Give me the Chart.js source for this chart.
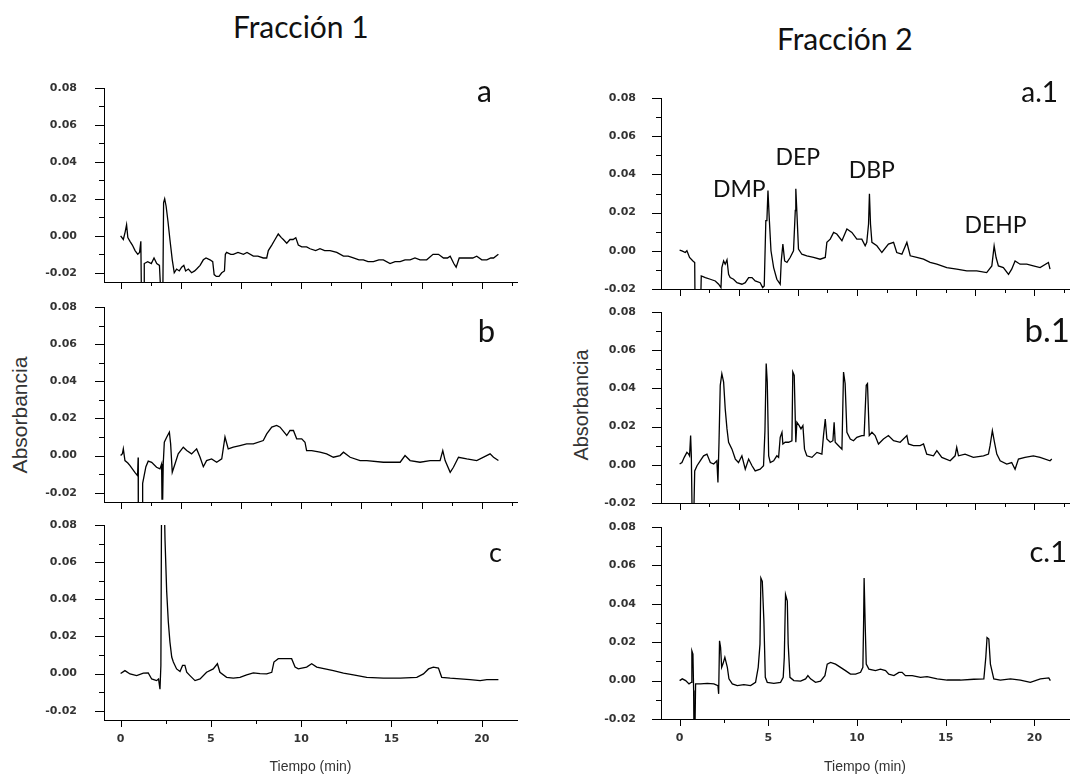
<!DOCTYPE html>
<html>
<head>
<meta charset="utf-8">
<script src="https://cdn.jsdelivr.net/npm/chart.js@4.4.1/dist/chart.umd.min.js"></script>
<style>
  body { margin: 0; background: #fff; width: 1073px; height: 776px; position: relative; overflow: hidden; }
  canvas { position: absolute; }
  .ttl { position: absolute; font-family: Lato, sans-serif; font-size: 30px; line-height: 1; color: #111; white-space: nowrap; }
  .ytl { position: absolute; font-family: 'Liberation Sans', Arial, sans-serif; color: #333; line-height: 1; white-space: nowrap;
         transform: translate(-50%, -50%) rotate(-90deg); }
</style>
</head>
<body>
<div class="ttl" style="left:233px; top:11px">Fracción 1</div>
<div class="ttl" style="left:777px; top:23px">Fracción 2</div>
<div class="ytl" style="left:19px; top:415px; font-size:21px">Absorbancia</div>
<div class="ytl" style="left:581px; top:405px; font-size:20px">Absorbancia</div>

<script>
// chromatograms: [time (min), absorbance]
const traceA = [[0,0],[0.15,-0.002],[0.25,0.002],[0.33,0.006],[0.40,-0.001],[0.52,-0.003],[0.65,-0.005],[0.80,-0.008],[0.95,-0.010],[1.05,-0.009],[1.12,-0.003],[1.15,-0.03],[1.30,-0.03],[1.31,-0.015],[1.50,-0.014],[1.70,-0.015],[1.85,-0.012],[2.00,-0.015],[2.15,-0.016],[2.22,-0.03],[2.34,-0.03],[2.38,0.018],[2.44,0.020],[2.52,0.016],[2.62,0.008],[2.73,-0.002],[2.86,-0.013],[2.97,-0.020],[3.10,-0.018],[3.25,-0.019],[3.38,-0.017],[3.50,-0.016],[3.60,-0.019],[3.75,-0.018],[3.93,-0.020],[4.10,-0.019],[4.21,-0.018],[4.40,-0.016],[4.58,-0.013],[4.73,-0.012],[4.95,-0.013],[5.10,-0.014],[5.18,-0.021],[5.30,-0.022],[5.45,-0.022],[5.60,-0.020],[5.75,-0.019],[5.80,-0.010],[5.87,-0.009],[6.10,-0.010],[6.24,-0.010],[6.50,-0.009],[6.80,-0.010],[7.00,-0.009],[7.35,-0.011],[7.60,-0.011],[7.90,-0.012],[8.09,-0.012],[8.18,-0.008],[8.37,-0.005],[8.55,-0.002],[8.73,0.001],[8.90,-0.001],[9.01,-0.002],[9.20,-0.004],[9.38,-0.002],[9.55,-0.002],[9.70,-0.001],[9.84,-0.005],[10.03,-0.006],[10.30,-0.006],[10.49,-0.007],[10.80,-0.008],[11.04,-0.007],[11.30,-0.008],[11.60,-0.008],[11.97,-0.009],[12.34,-0.011],[12.60,-0.011],[12.89,-0.012],[13.20,-0.013],[13.44,-0.013],[13.70,-0.014],[14.00,-0.014],[14.30,-0.013],[14.55,-0.013],[14.92,-0.015],[15.20,-0.014],[15.48,-0.014],[15.75,-0.013],[16.03,-0.013],[16.30,-0.012],[16.58,-0.013],[16.95,-0.013],[17.30,-0.010],[17.60,-0.010],[17.88,-0.012],[18.10,-0.012],[18.25,-0.011],[18.45,-0.015],[18.58,-0.017],[18.75,-0.012],[19.00,-0.012],[19.17,-0.012],[19.50,-0.012],[19.72,-0.011],[20.00,-0.013],[20.28,-0.013],[20.50,-0.012],[20.65,-0.012],[20.92,-0.010]];

const traceB = [[0,0],[0.10,0.001],[0.15,0.0036],[0.24,-0.0027],[0.40,-0.004],[0.52,-0.0054],[0.79,-0.009],[0.94,-0.0108],[0.97,-0.001],[0.98,-0.03],[1.20,-0.03],[1.22,-0.015],[1.40,-0.006],[1.53,-0.003],[1.72,-0.0036],[1.99,-0.0063],[2.18,-0.0072],[2.27,-0.0045],[2.29,-0.0234],[2.33,-0.0234],[2.36,-0.0045],[2.42,0.0072],[2.55,0.0099],[2.70,0.0126],[2.77,0.0063],[2.86,-0.009],[3.01,-0.0045],[3.19,0.0009],[3.47,0.0045],[3.66,0.0027],[3.93,0.0009],[4.21,0.0036],[4.40,-0.0009],[4.58,-0.006],[4.76,-0.0027],[5.04,-0.0018],[5.32,-0.0036],[5.60,-0.0018],[5.78,0.010],[5.96,0.0036],[6.24,0.0045],[6.61,0.0054],[6.98,0.0063],[7.35,0.0063],[7.90,0.0081],[8.09,0.0117],[8.37,0.0153],[8.64,0.0162],[8.83,0.0153],[9.20,0.0108],[9.38,0.0135],[9.57,0.0135],[9.75,0.009],[10.03,0.009],[10.21,0.0072],[10.30,0.0027],[10.58,0.0027],[11.04,0.0018],[11.41,0.0009],[11.78,-0.0009],[12.15,0],[12.34,0.0018],[12.71,-0.0009],[13.26,-0.0027],[13.63,-0.0027],[14.55,-0.0036],[15.48,-0.0036],[15.75,0],[16.03,-0.0027],[16.58,-0.0036],[17.14,-0.0027],[17.69,-0.0027],[17.84,0.0027],[17.97,-0.0027],[18.25,-0.009],[18.43,-0.0063],[18.71,-0.0009],[19.17,-0.0018],[19.72,-0.0027],[20.46,0.0009],[20.65,-0.0009],[20.92,-0.0027]];

const traceC = [[0,0],[0.24,0.0016],[0.52,-0.0002],[0.89,-0.0011],[1.26,0.0002],[1.53,0.0004],[1.72,-0.0029],[1.99,-0.0038],[2.10,-0.0029],[2.18,-0.0084],[2.23,0.0044],[2.27,0.10],[2.40,0.10],[2.46,0.0716],[2.55,0.0444],[2.64,0.028],[2.73,0.0171],[2.83,0.0089],[2.92,0.0062],[3.10,0.0025],[3.29,0.0011],[3.43,0.0044],[3.56,0.0044],[3.66,0.0007],[3.84,-0.0011],[4.12,-0.0038],[4.40,-0.0029],[4.76,0.0007],[5.13,0.0025],[5.36,0.0053],[5.50,0.0007],[5.87,-0.002],[6.24,-0.0025],[6.61,-0.002],[6.98,-0.0007],[7.35,0.0004],[7.72,0],[8.09,-0.0002],[8.37,0.0007],[8.49,0.0062],[8.73,0.008],[9.20,0.008],[9.47,0.008],[9.66,0.0035],[9.84,0.0025],[10.30,0.0035],[10.58,0.0053],[10.86,0.0035],[11.32,0.0025],[11.78,0.0016],[12.34,0.0002],[12.89,-0.0007],[13.63,-0.002],[14.55,-0.0024],[15.48,-0.0024],[16.40,-0.002],[16.77,-0.0002],[17.05,0.0025],[17.32,0.0035],[17.60,0.003],[17.78,-0.002],[18.25,-0.0025],[18.80,-0.0029],[19.35,-0.0033],[19.91,-0.0038],[20.28,-0.0033],[20.92,-0.0033]];

const traceA1 = [[0,0.0004],[0.13,0],[0.32,-0.0009],[0.41,0],[0.56,-0.0035],[0.75,-0.0053],[0.85,-0.0061],[0.87,-0.03],[1.18,-0.03],[1.22,-0.0132],[1.45,-0.014],[1.73,-0.0149],[2.01,-0.0158],[2.20,-0.0175],[2.33,-0.0193],[2.38,-0.0088],[2.48,-0.0053],[2.57,-0.007],[2.67,-0.0047],[2.76,-0.0123],[2.85,-0.014],[3.04,-0.0149],[3.23,-0.0167],[3.51,-0.0175],[3.70,-0.0167],[3.89,-0.014],[4.08,-0.014],[4.26,-0.0158],[4.54,-0.0167],[4.68,-0.0193],[4.77,-0.0184],[4.86,0.0158],[4.92,0.0158],[4.98,0.0316],[5.05,0.0175],[5.15,0],[5.30,-0.0088],[5.48,-0.0149],[5.67,-0.0175],[5.73,-0.0053],[5.82,0.0035],[5.92,-0.0053],[6.05,-0.0061],[6.23,-0.0035],[6.42,0],[6.52,0.0211],[6.55,0.0325],[6.61,0.0202],[6.70,0.0009],[6.89,-0.0018],[7.17,-0.0026],[7.55,-0.0035],[7.92,-0.0044],[8.21,-0.0035],[8.30,0.0044],[8.49,0.0061],[8.68,0.0096],[8.86,0.0088],[9.15,0.0053],[9.43,0.0114],[9.71,0.0096],[9.99,0.0061],[10.27,0.0061],[10.46,0.0026],[10.55,0.0044],[10.65,0.014],[10.70,0.0298],[10.76,0.014],[10.84,0.0044],[11.12,0.0026],[11.40,-0.0009],[11.77,0.0035],[12.06,0.0044],[12.24,-0.0009],[12.53,-0.0018],[12.81,0.0044],[13.00,-0.0026],[13.37,-0.0035],[13.75,-0.0044],[14.12,-0.0061],[14.50,-0.007],[15.06,-0.0088],[15.62,-0.0096],[16.19,-0.0105],[16.75,-0.0105],[17.31,-0.0114],[17.60,-0.0079],[17.73,0.0026],[17.84,-0.0035],[17.97,-0.0079],[18.25,-0.0088],[18.54,-0.0123],[18.72,-0.0096],[18.91,-0.0053],[19.19,-0.007],[19.57,-0.007],[19.94,-0.0079],[20.32,-0.0088],[20.79,-0.0061],[20.88,-0.0096]];

const traceB1 = [[0,0.0004],[0.13,0.0012],[0.26,0.0039],[0.41,0.0065],[0.51,0.0056],[0.56,0.0047],[0.62,0.0153],[0.66,0.0047],[0.71,-0.03],[0.79,-0.03],[0.85,-0.0032],[0.98,-0.0005],[1.16,0.0021],[1.35,0.0047],[1.54,0.0056],[1.73,0.0012],[1.92,0.0004],[2.10,0.0021],[2.16,-0.0093],[2.22,0.0118],[2.29,0.0416],[2.38,0.0477],[2.48,0.0433],[2.57,0.0293],[2.67,0.0188],[2.76,0.0118],[2.95,0.0082],[3.14,0.003],[3.32,0.0012],[3.51,0.0047],[3.70,-0.0023],[3.89,0.003],[4.08,-0.0005],[4.26,-0.0032],[4.54,-0.0023],[4.73,-0.0005],[4.81,0.0179],[4.88,0.053],[4.94,0.0433],[5.02,0.0047],[5.11,0.0012],[5.30,0.0021],[5.48,0.0047],[5.58,0.0039],[5.67,0.0144],[5.77,0.017],[5.82,0.0109],[5.95,0.0118],[6.14,0.0118],[6.33,0.0126],[6.38,0.0486],[6.46,0.0468],[6.55,0.0118],[6.61,0.0223],[6.74,0.0205],[6.84,0.0188],[6.95,0.0205],[7.04,0.0082],[7.17,0.0047],[7.46,0.0039],[7.74,0.0065],[8.02,0.0056],[8.11,0.0153],[8.21,0.024],[8.30,0.0135],[8.49,0.0118],[8.64,0.0126],[8.71,0.0223],[8.77,0.0118],[8.96,0.01],[9.15,0.0082],[9.24,0.0486],[9.33,0.0425],[9.43,0.017],[9.62,0.0135],[9.80,0.0126],[9.99,0.0144],[10.27,0.0153],[10.40,0.0153],[10.52,0.0416],[10.59,0.0425],[10.69,0.0153],[10.84,0.017],[11.02,0.0153],[11.21,0.0109],[11.49,0.0135],[11.77,0.0153],[12.06,0.0126],[12.43,0.0118],[12.81,0.0153],[12.90,0.0109],[13.18,0.01],[13.56,0.01],[13.75,0.0109],[13.93,0.0056],[14.31,0.0047],[14.50,0.0074],[14.78,0.0039],[15.25,0.0021],[15.53,0.0047],[15.62,0.0091],[15.72,0.0047],[16.09,0.0056],[16.56,0.0039],[17.13,0.0047],[17.41,0.0056],[17.50,0.01],[17.63,0.0179],[17.75,0.0118],[17.88,0.0056],[18.07,0.0021],[18.44,0.0004],[18.72,0.0012],[18.91,-0.0023],[19.10,0.003],[19.47,0.0039],[19.94,0.0047],[20.32,0.0039],[20.88,0.0021],[20.98,0.003]];

const traceC1 = [[0,0],[0.15,0.0009],[0.34,0],[0.53,-0.0017],[0.66,-0.0009],[0.69,0.0155],[0.75,0.0138],[0.79,-0.0052],[0.81,-0.03],[0.86,-0.03],[0.90,-0.0017],[1.18,-0.0017],[1.56,-0.0014],[1.93,-0.0017],[2.16,-0.0026],[2.20,-0.0069],[2.25,0.0207],[2.31,0.0172],[2.37,0.0069],[2.44,0.0086],[2.55,0.0121],[2.69,0.0069],[2.78,0.0009],[2.97,-0.0017],[3.25,-0.0026],[3.62,-0.0021],[4.00,-0.0026],[4.28,-0.0009],[4.43,0.0069],[4.53,0.019],[4.58,0.0534],[4.66,0.0517],[4.75,0.031],[4.83,0.0017],[4.94,-0.0009],[5.31,-0.0014],[5.69,-0.0009],[5.84,0.0017],[5.90,0.0121],[5.97,0.0448],[6.07,0.0414],[6.12,0.019],[6.22,0.0017],[6.44,0],[6.82,-0.0003],[7.10,0.0009],[7.23,0.0026],[7.38,0.0009],[7.66,-0.0009],[7.94,-0.0003],[8.19,0.0026],[8.32,0.0086],[8.51,0.0095],[8.79,0.0086],[9.07,0.0069],[9.35,0.0052],[9.63,0.0034],[9.92,0.0034],[10.20,0.0043],[10.33,0.0069],[10.37,0.0293],[10.40,0.0534],[10.46,0.0293],[10.52,0.0086],[10.67,0.006],[11.04,0.0052],[11.32,0.006],[11.61,0.0052],[11.79,0.0034],[12.08,0.0026],[12.36,0.0043],[12.54,0.0043],[12.73,0.0026],[13.11,0.0026],[13.58,0.0017],[13.95,0.0021],[14.52,0.0009],[15.08,0.0003],[15.83,0.0003],[16.58,0.0007],[17.15,0.0009],[17.26,0.0121],[17.33,0.0224],[17.43,0.0216],[17.52,0.0086],[17.71,0.0009],[18.08,0.0003],[18.65,0.0009],[19.21,0.0003],[19.77,-0.0009],[20.34,0.0009],[20.81,0.0014],[20.90,0]];

// phthalate peaks named in a.1: label centre time and baseline level
const peakNames = ['DMP', 'DEP', 'DBP', 'DEHP'];
const peakLabelTime = [3.36, 6.66, 10.83, 17.81];
const peakLabelLevel = [0.028, 0.045, 0.038, 0.0095];

// axis ticks
const yTickValues = [-0.02, -0.01, 0, 0.01, 0.02, 0.03, 0.04, 0.05, 0.06, 0.07, 0.08];
const xTicksUpper = [0, 5/3, 10/3, 5, 20/3, 25/3, 10, 35/3, 40/3, 15, 50/3, 55/3, 20, 65/3];
const xTicksLower = [0, 2.5, 5, 7.5, 10, 12.5, 15, 17.5, 20];

const tickFont = { family: 'DejaVu Sans', size: 11, weight: 'bold' };
const inkColor = '#333';

// short/long tick marks outside both axes
const tickMarks = {
  id: 'tickMarks',
  afterDraw(chart) {
    const { ctx, chartArea } = chart;
    const xs = chart.scales.x, ys = chart.scales.y;
    ctx.save();
    ctx.strokeStyle = '#000';
    ctx.lineWidth = 1;
    ctx.beginPath();
    ys.ticks.forEach(tk => {
      const y = Math.round(ys.getPixelForValue(tk.value)) + 0.5;
      ctx.moveTo(chartArea.left, y);
      ctx.lineTo(chartArea.left - (tk.major ? 9 : 5), y);
    });
    xs.ticks.forEach(tk => {
      const x = Math.round(xs.getPixelForValue(tk.value)) + 0.5;
      ctx.moveTo(x, chartArea.bottom);
      ctx.lineTo(x, chartArea.bottom + (tk.major ? 7 : 4));
    });
    ctx.stroke();
    ctx.restore();
  }
};

// panel letter and peak names
const panelText = {
  id: 'panelText',
  afterDatasetsDraw(chart, args, opts) {
    const { ctx } = chart;
    ctx.save();
    ctx.fillStyle = '#111';
    ctx.textBaseline = 'alphabetic';
    ctx.textAlign = 'right';
    ctx.font = opts.size + 'px Lato';
    ctx.fillText(opts.letter, opts.x, opts.y);
    if (opts.peaks) {
      ctx.textAlign = 'center';
      ctx.font = '23px Lato';
      peakNames.forEach((name, i) => {
        ctx.fillText(name, chart.scales.x.getPixelForValue(peakLabelTime[i]),
                     chart.scales.y.getPixelForValue(peakLabelLevel[i]));
      });
    }
    ctx.restore();
  }
};

// page layout: column (left, width) and plot area (left, top, right, bottom)
const panels = [
  { trace: traceA,  col: [0, 540],   area: [104, 88, 517, 282],  yMin: -0.025, xMin: -0.92, lower: false, letter: 'a',   at: [492, 102], size: 30, pad: 27 },
  { trace: traceB,  col: [0, 540],   area: [104, 307, 517, 502], yMin: -0.025, xMin: -0.92, lower: false, letter: 'b',   at: [495, 342], size: 31, pad: 27 },
  { trace: traceC,  col: [0, 540],   area: [104, 525, 517, 720], yMin: -0.025, xMin: -0.92, lower: true,  letter: 'c',   at: [502, 562], size: 27, pad: 27 },
  { trace: traceA1, col: [540, 533], area: [661, 98, 1069, 289], yMin: -0.02,  xMin: -1.05, lower: false, letter: 'a.1', at: [1058, 102], size: 28, pad: 25, peaks: true },
  { trace: traceB1, col: [540, 533], area: [661, 312, 1069, 503], yMin: -0.02, xMin: -1.05, lower: false, letter: 'b.1', at: [1070, 342], size: 33, pad: 25 },
  { trace: traceC1, col: [540, 533], area: [661, 527, 1069, 719], yMin: -0.02, xMin: -1.05, lower: true,  letter: 'c.1', at: [1067, 562], size: 29, pad: 25 }
];

const PAGE_H = 776;

panels.forEach(p => {
  const [bx, bw] = p.col;
  const [aL, aT, aR, aB] = p.area;
  // canvases overlap (they are transparent) so the axis label padding never squeezes the plot
  const by = aT - 45;
  const bottomEdge = p.lower ? PAGE_H : aB + 50;
  const bh = bottomEdge - by;
  const xAxisH = p.lower ? PAGE_H - aB : 10;

  const cv = document.createElement('canvas');
  cv.width = bw;
  cv.height = bh;
  cv.style.left = bx + 'px';
  cv.style.top = by + 'px';
  document.body.appendChild(cv);

  new Chart(cv, {
    type: 'line',
    data: {
      datasets: [{
        data: p.trace.map(([t, v]) => ({ x: t, y: v })),
        borderColor: '#000',
        borderWidth: 1.3,
        pointRadius: 0,
        tension: 0
      }]
    },
    options: {
      responsive: false,
      animation: false,
      devicePixelRatio: 1,
      layout: { padding: { left: 0, top: aT - by, right: bx + bw - aR, bottom: bottomEdge - aB - xAxisH } },
      plugins: {
        legend: { display: false },
        tooltip: { enabled: false },
        panelText: { letter: p.letter, x: p.at[0] - bx, y: p.at[1] - by, size: p.size, peaks: !!p.peaks }
      },
      scales: {
        x: {
          type: 'linear',
          min: p.xMin,
          max: 21.95,
          afterFit: s => { s.height = xAxisH; },
          afterBuildTicks: s => {
            s.ticks = p.lower
              ? xTicksLower.map(v => ({ value: v, major: v % 5 === 0 }))
              : xTicksUpper.map((v, i) => ({ value: v, major: i % 2 === 0 }));
          },
          grid: { display: false, drawTicks: false },
          border: { color: '#000', width: 1 },
          ticks: {
            display: p.lower,
            autoSkip: false,
            maxRotation: 0,
            padding: 13,
            color: inkColor,
            font: tickFont,
            callback: v => (v % 5 === 0 ? String(v) : '')
          },
          title: {
            display: p.lower,
            text: 'Tiempo (min)',
            color: inkColor,
            font: { family: 'Liberation Sans', size: 14 },
            padding: { top: 0, bottom: 0 }
          }
        },
        y: {
          min: p.yMin,
          max: 0.08,
          afterFit: s => { s.width = aL - bx; },
          afterBuildTicks: s => {
            s.ticks = yTickValues.map(v => ({ value: v, major: Math.round(v * 100) % 2 === 0 }));
          },
          grid: { display: false, drawTicks: false },
          border: { color: '#000', width: 1 },
          ticks: {
            autoSkip: false,
            padding: p.pad,
            color: inkColor,
            font: tickFont,
            callback: v => (Math.round(v * 100) % 2 === 0 ? v.toFixed(2) : '')
          }
        }
      }
    },
    plugins: [tickMarks, panelText]
  });
});
</script>
</body>
</html>
